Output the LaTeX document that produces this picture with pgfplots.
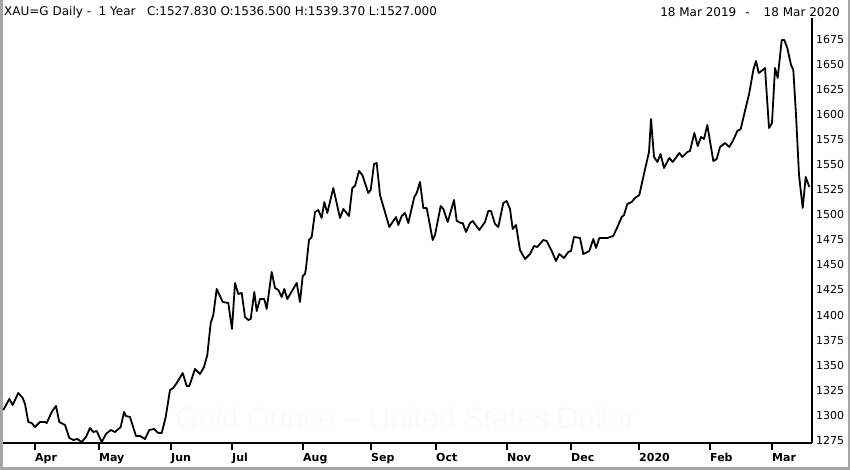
\documentclass[border=0pt]{standalone}
\usepackage{fontspec}
\setmainfont{DejaVu Sans}
\newfontfamily\wmfont{Liberation Sans}
\usepackage{pgfplots}
\pgfplotsset{compat=1.18}
\begin{document}
\begin{tikzpicture}[x=1pt,y=1pt]
\path[use as bounding box] (0,0) rectangle (850,470);
\draw[black!35, line width=2.5pt] (1.25,470) -- (1.25,1.25) -- (848.75,1.25) -- (848.75,470);
\node[anchor=west, inner sep=0pt, font=\fontsize{12}{14}\selectfont] at (4,458)
  {XAU=G Daily -~~1 Year~~~C:1527.830 O:1536.500 H:1539.370 L:1527.000};
\node[anchor=east, inner sep=0pt, font=\fontsize{12}{14}\selectfont] at (840,458)
  {18 Mar 2019\hspace{9pt}-\hspace{14pt}18 Mar 2020};
\begin{axis}[
  at={(3pt,27pt)}, anchor=south west,
  scale only axis, width=809pt, height=425pt,
  xmin=3, xmax=812, ymin=1272, ymax=1697,
  axis x line*=bottom, axis y line*=right,
  axis line style={-, line width=1.8pt, black},
  xtick={35,99,171,232,303,371,436,507,571,639,710,772},
  xticklabels={Apr,May,Jun,Jul,Aug,Sep,Oct,Nov,Dec,2020,Feb,Mar},
  ytick={1275,1300,...,1675},
  tick align=outside,
  major tick length=7pt,
  xtick style={line width=1.8pt, black},
  ytick style={draw=none},
  xticklabel style={anchor=north west, inner sep=0pt, yshift=-3pt, font=\fontsize{11}{13}\selectfont\bfseries},
  yticklabel style={anchor=west, inner sep=0pt, xshift=-3pt, font=\fontsize{11}{13}\selectfont},
  /pgf/number format/assume math mode=true,
  /pgf/number format/1000 sep={},
  clip=false,
]
\node[anchor=west, inner sep=0pt, text=black!2, font=\wmfont\fontsize{30}{32}\selectfont] at (axis cs:175,1297) {Gold Ounce – United States Dollar};
\addplot[black, line width=1.8pt, line join=round] coordinates {
(3.3,1305) (9.3,1316) (12.7,1310) (18.3,1322) (22.7,1317) (25,1311) (28.3,1293)
(31.7,1292) (35,1288) (40,1293) (45,1293) (46.7,1292) (51.7,1303) (56,1309)
(59.3,1293) (65,1290) (69.3,1277) (73.3,1275) (77.3,1276) (81.7,1273) (86,1278)
(90,1287) (93.3,1283) (96.7,1284) (101.7,1273) (106,1281) (110.7,1285) (115,1283)
(120.7,1288) (124,1303) (126,1299) (130,1298) (136,1279) (140,1279) (145,1276)
(149.3,1285) (154,1286) (158.3,1282) (161.7,1282) (165.7,1298) (170,1325)
(173.3,1327) (176.7,1332) (182.7,1342) (186.7,1329) (189.3,1329) (195,1346)
(200,1341) (204,1348) (207.3,1360) (210.7,1392) (213.3,1400) (216.7,1426)
(222.7,1413) (228.3,1412) (232,1386) (235,1432) (238.3,1421) (241.7,1422)
(245,1398) (248.3,1395) (250.7,1396) (254.3,1423) (256.7,1404) (260,1416)
(264.3,1416) (266.7,1406) (271.7,1443) (275,1427) (278.3,1425) (281.7,1418)
(284.3,1426) (287.3,1416) (296.7,1432) (300,1413) (302.7,1439) (305,1441)
(306,1447) (309,1475) (311.7,1478) (315,1503) (318.3,1505) (321.7,1497)
(324.3,1513) (327.3,1502) (333.3,1527) (340,1497) (343.3,1506) (349,1499)
(352.3,1527) (355,1529) (359,1544) (362.3,1540) (368.3,1522) (370.7,1525)
(374,1551) (376.7,1552) (380,1520) (389.3,1488) (396,1498) (398.3,1490)
(401.7,1499) (405,1502) (408.3,1492) (414.3,1518) (416.7,1522) (420,1533)
(423.3,1507) (426.7,1507) (432.7,1475) (435,1480) (440.7,1509) (443.3,1506)
(447.7,1493) (454,1515) (456.7,1494) (461,1492) (462.7,1492) (466,1483)
(470,1492) (472.7,1494) (479.3,1485) (485,1493) (488.3,1504) (491,1504)
(495,1491) (498.3,1488) (503.3,1512) (506.7,1514) (510,1506) (512.7,1486)
(516,1490) (520,1465) (525,1456) (530,1461) (534,1469) (537.3,1468)
(543.3,1475) (546.7,1474) (551.7,1464) (556,1454) (559.3,1461) (564,1457)
(568.3,1463) (571,1464) (574,1478) (580,1477) (583.3,1461) (589.3,1464)
(593.3,1476) (596,1467) (599.3,1477) (607.3,1477) (613.3,1479) (618.3,1490)
(621.7,1498) (624,1500) (627.3,1511) (631.7,1513) (635,1517) (639.3,1520)
(643.3,1538) (646.7,1553) (649,1563) (651,1596) (654,1558) (657.5,1553)
(660.5,1561) (664,1547) (669.3,1557) (672.7,1553) (679.3,1562) (682.3,1558)
(687.3,1563) (690,1564) (694.3,1582) (697.7,1569) (701,1578) (704,1576)
(707.3,1590) (713.3,1554) (716.7,1556) (720,1568) (725,1572) (729.3,1568)
(733.3,1575) (737.3,1584) (740.7,1586) (744,1600) (749.3,1622) (753.3,1645)
(756,1654) (758.7,1642) (762.7,1645) (765,1647) (769,1587) (772,1592)
(775,1647) (777.7,1637) (781.7,1675) (784.3,1675) (787.3,1667) (791,1650)
(793.3,1645) (796,1600) (799,1540) (802.7,1507) (805.7,1538) (809.3,1528)
};
\end{axis}
\end{tikzpicture}
\end{document}
